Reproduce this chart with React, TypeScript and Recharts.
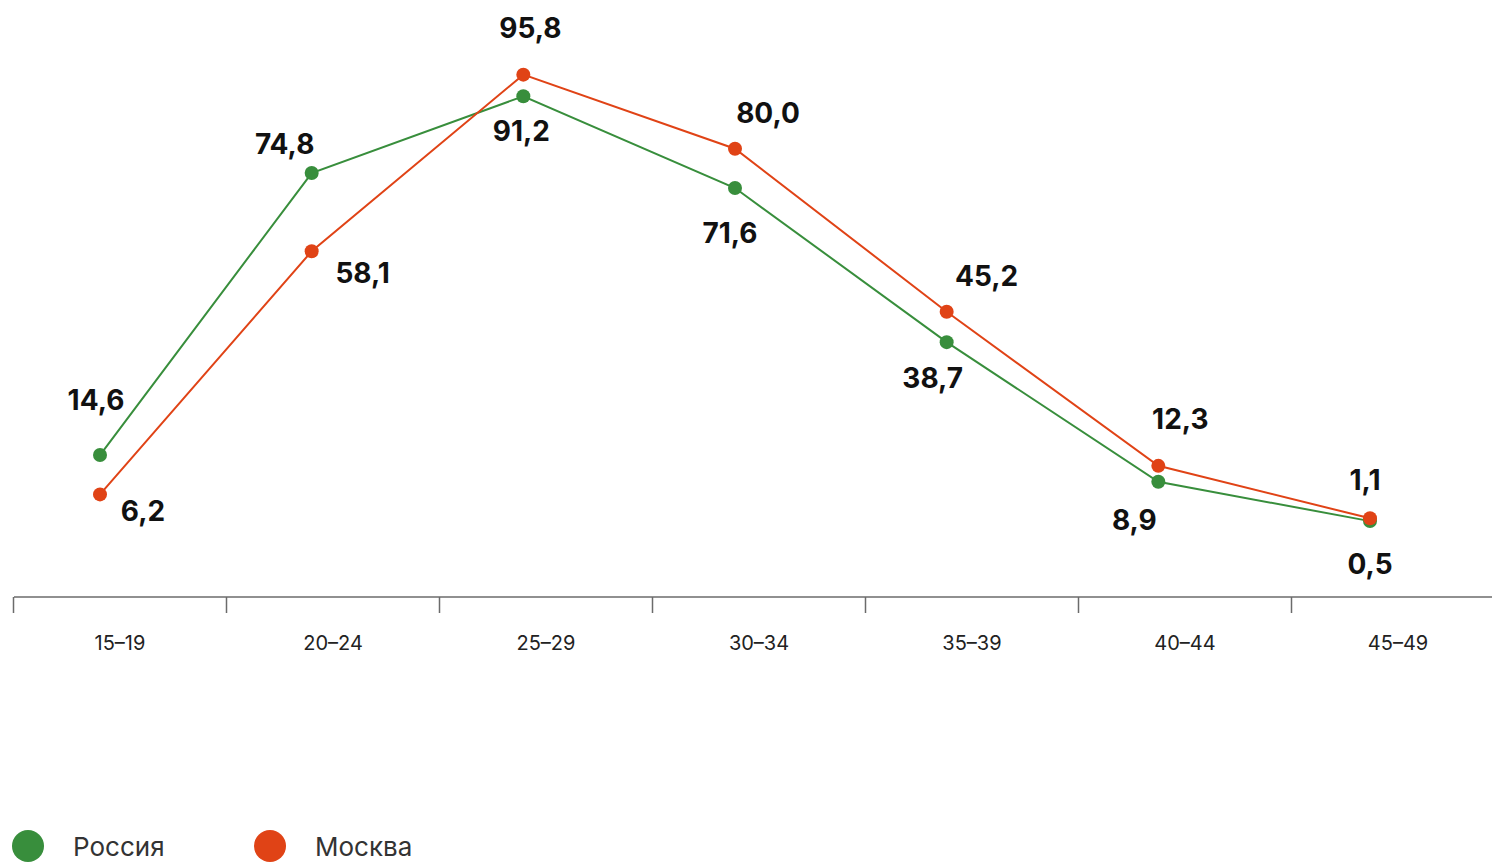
import { LineChart, Line, XAxis, YAxis, LabelList } from 'recharts';

const AGE_GROUPS = ['15–19', '20–24', '25–29', '30–34', '35–39', '40–44', '45–49'];
const RUSSIA = [14.6, 74.8, 91.2, 71.6, 38.7, 8.9, 0.5];
const MOSCOW = [6.2, 58.1, 95.8, 80.0, 45.2, 12.3, 1.1];

const SERIES = [
  { key: 'russia', name: 'Россия', color: '#388e3c' },
  { key: 'moscow', name: 'Москва', color: '#e04316' },
];

// label offsets from the dot centre, per point
const LABEL_OFFSETS: Record<string, [number, number][]> = {
  russia: [[-4, -55], [-27, -29], [-2, 35], [-5, 45], [-14, 36], [-24, 38], [0, 43]],
  moscow: [[43, 17], [51, 22], [7, -47], [33, -36], [40, -36], [22, -47], [-5, -38]],
};

const data = AGE_GROUPS.map((age, i) => ({ age, russia: RUSSIA[i], moscow: MOSCOW[i] }));

const FONT = 'Inter, "Noto Sans", sans-serif';

const fmt = (v: number) => v.toFixed(1).replace('.', ',');

function makeLabel(seriesKey: string) {
  return (props: any) => {
    const { x, y, value, index } = props;
    const [dx, dy] = LABEL_OFFSETS[seriesKey][index] ?? [0, -30];
    return (
      <text
        x={x + dx}
        y={y + dy}
        textAnchor="middle"
        dominantBaseline="central"
        fontFamily={FONT}
        fontSize={28}
        fontWeight={700}
        fill="#111"
      >
        {fmt(value)}
      </text>
    );
  };
}

// tick y comes in already shifted by recharts' tick padding (8px)
function AxisTick(props: any) {
  const { x, y, payload } = props;
  const top = y - 8;
  return (
    <g>
      <line x1={x - 106.5} y1={top} x2={x - 106.5} y2={top + 16} stroke="#6b6b6b" strokeWidth={1.5} />
      <text
        x={x}
        y={top + 46}
        textAnchor="middle"
        dominantBaseline="central"
        fontFamily={FONT}
        fontSize={20}
        fill="#222"
      >
        {payload.value}
      </text>
    </g>
  );
}

export default function App() {
  return (
    <div style={{ position: 'absolute', left: 0, top: 0, width: 1492, height: 862, overflow: 'hidden', background: '#fff' }}>
      <LineChart width={1492} height={700} data={data} margin={{ top: 55, right: 0, left: 14, bottom: 0 }}>
        <XAxis
          xAxisId="labels"
          dataKey="age"
          height={103}
          padding={{ left: 106, right: 94 }}
          tickLine={false}
          axisLine={{ stroke: '#6b6b6b', strokeWidth: 1.5 }}
          tick={<AxisTick />}
          interval={0}
        />
        <XAxis xAxisId="pts" dataKey="age" hide padding={{ left: 86, right: 122 }} />
        <YAxis hide domain={[-15.7, 100]} allowDataOverflow />
        {SERIES.map((s) => (
          <Line
            key={s.key}
            xAxisId="pts"
            dataKey={s.key}
            name={s.name}
            stroke={s.color}
            strokeWidth={2}
            dot={{ r: 7, fill: s.color, stroke: 'none' }}
            activeDot={false}
            isAnimationActive={false}
          >
            <LabelList dataKey={s.key} content={makeLabel(s.key)} />
          </Line>
        ))}
      </LineChart>
      {SERIES.map((s, i) => (
        <div
          key={s.key}
          style={{
            position: 'absolute',
            left: 12 + i * 242,
            top: 830,
            display: 'flex',
            alignItems: 'center',
            fontFamily: FONT,
            fontSize: 26,
            color: '#333',
          }}
        >
          <span style={{ width: 32, height: 32, borderRadius: 16, background: s.color, display: 'inline-block' }} />
          <span style={{ marginLeft: 29 }}>{s.name}</span>
        </div>
      ))}
    </div>
  );
}
